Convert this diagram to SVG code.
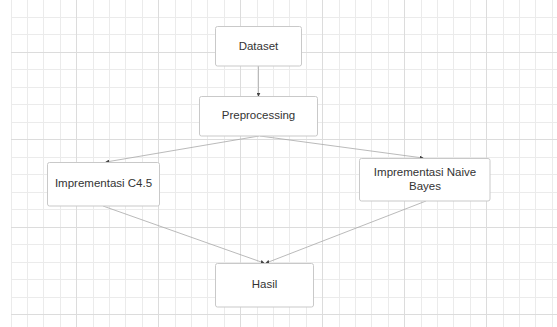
<svg xmlns="http://www.w3.org/2000/svg" width="557" height="327" viewBox="0 0 557 327">
  <defs>
    <marker id="arrow" viewBox="0 0 6 6" refX="5" refY="3" markerWidth="4" markerHeight="4" orient="auto" markerUnits="userSpaceOnUse">
      <path d="M0 0L6 3L0 6Z" fill="#444"/>
    </marker>
  </defs>
  <style>
    .minor { fill: none; stroke: #ebebeb; stroke-width: 1; }
    .major { fill: none; stroke: #dcdcdc; stroke-width: 1; }
    .box { fill: #ffffff; stroke: #c9c9c9; stroke-width: 1; }
    .label { font-family: "Liberation Sans", Arial, sans-serif; font-size: 11.5px; fill: #333333; text-anchor: middle; }
    .edge { fill: none; stroke: #a8a8a8; stroke-width: 0.8; marker-end: url(#arrow); }
  </style>

  <!-- background grid -->
  <rect width="557" height="327" fill="#ffffff"/>
  <g id="grid">
    <path class="minor" d="M11.5 0V327M27.5 0V327M43.5 0V327M60.5 0V327M93.5 0V327M109.5 0V327M125.5 0V327M142.5 0V327M175.5 0V327M191.5 0V327M207.5 0V327M224.5 0V327M257.5 0V327M273.5 0V327M289.5 0V327M306.5 0V327M339.5 0V327M355.5 0V327M371.5 0V327M388.5 0V327M421.5 0V327M437.5 0V327M453.5 0V327M470.5 0V327M503.5 0V327M519.5 0V327M535.5 0V327M552.5 0V327"/>
    <path class="minor" d="M11 17.5H557M11 34.5H557M11 69.5H557M11 87.5H557M11 104.5H557M11 122.5H557M11 157.5H557M11 174.5H557M11 192.5H557M11 209.5H557M11 244.5H557M11 262.5H557M11 279.5H557M11 297.5H557"/>
    <path class="major" d="M76.5 0V327M158.5 0V327M240.5 0V327M322.5 0V327M404.5 0V327M486.5 0V327"/>
    <path class="major" d="M11 52.5H557M11 139.5H557M11 227.5H557M11 314.5H557"/>
  </g>

  <g id="connectors">
    <line class="edge" x1="258.5" y1="66" x2="258.5" y2="96"/>
    <line class="edge" x1="259" y1="136" x2="106" y2="162"/>
    <line class="edge" x1="260" y1="136" x2="423" y2="158"/>
    <line class="edge" x1="103" y1="206" x2="264" y2="263"/>
    <line class="edge" x1="426" y1="201" x2="266" y2="263"/>
  </g>

  <g id="node-dataset">
    <rect class="box" x="215.5" y="26.5" width="86" height="39.5" rx="2"/>
    <text class="label" x="258.5" y="49.5">Dataset</text>
  </g>

  <g id="node-preprocessing">
    <rect class="box" x="199.5" y="96.5" width="118" height="39.5" rx="2"/>
    <text class="label" x="258.5" y="118.5">Preprocessing</text>
  </g>

  <g id="node-c45">
    <rect class="box" x="47.5" y="162.5" width="112" height="43.5" rx="2"/>
    <text class="label" x="103.5" y="186.5">Imprementasi C4.5</text>
  </g>

  <g id="node-naive-bayes">
    <rect class="box" x="359.5" y="158.5" width="130.5" height="42.5" rx="2"/>
    <text class="label" x="425" y="176">Imprementasi Naive</text>
    <text class="label" x="425" y="190">Bayes</text>
  </g>

  <g id="node-hasil">
    <rect class="box" x="215.5" y="263.5" width="98" height="43.5" rx="2"/>
    <text class="label" x="264.5" y="287.5">Hasil</text>
  </g>
</svg>
